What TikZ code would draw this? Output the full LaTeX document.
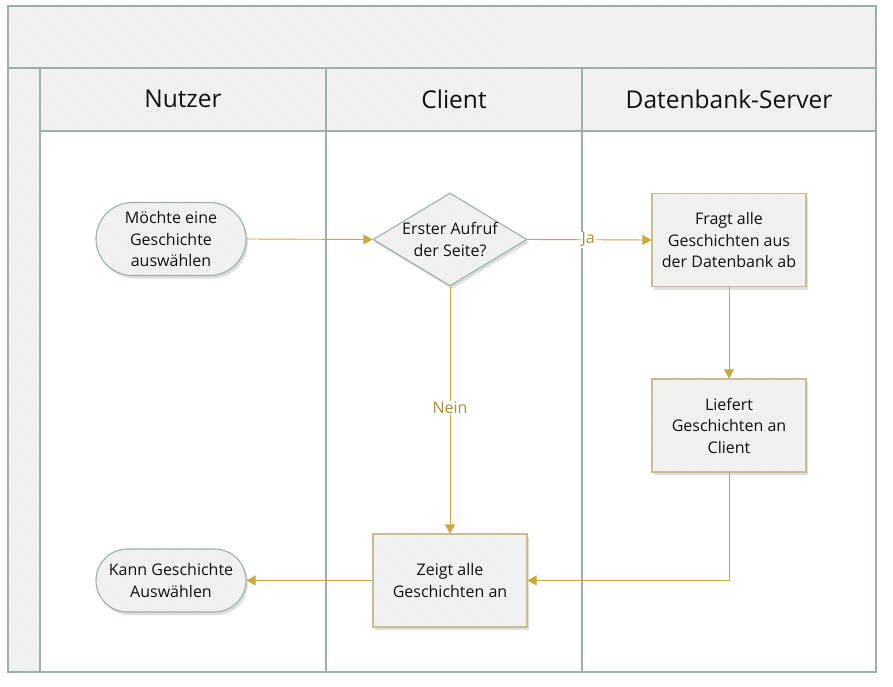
\documentclass[tikz,border=0pt]{standalone}
\usepackage{fontspec}
\setmainfont{Open Sans}
\usetikzlibrary{arrows.meta,shapes.geometric,shapes.misc,shadows,patterns}
\definecolor{frame}{HTML}{9AB0A8}
\definecolor{hatchbg}{HTML}{EBEBEB}
\definecolor{gold}{HTML}{C9A83C}
\definecolor{tan}{HTML}{C8BD92}
\definecolor{txt}{HTML}{111111}
\tikzset{
  hatched/.style={preaction={fill=hatchbg}, preaction={pattern=north west lines, pattern color=white}},
  lane/.style={draw=frame, line width=1.3pt},
  header/.style={draw=frame, line width=1.3pt, hatched},
  hdrtext/.style={font=\fontsize{24.5}{28}\selectfont, text=txt},
  boxtext/.style={font=\fontsize{16}{21.5}\selectfont, text=txt, align=center},
  terminal/.style={boxtext, rounded rectangle, draw=frame, line width=1.1pt, drop shadow={shadow xshift=2pt, shadow yshift=-3pt, fill=black!25, opacity=0.5}, hatched, minimum width=154pt, minimum height=73pt, inner sep=2pt},
  process/.style={boxtext, rectangle, draw=tan, line width=1.1pt, drop shadow={shadow xshift=2pt, shadow yshift=-3pt, fill=black!25, opacity=0.5}, hatched, minimum width=154pt, minimum height=93pt, inner sep=2pt},
  decision/.style={boxtext, diamond, aspect=1.65, draw=frame, line width=1.1pt, drop shadow={shadow xshift=2pt, shadow yshift=-3pt, fill=black!25, opacity=0.5}, hatched, minimum width=154pt, minimum height=93pt, inner sep=0pt},
  flow/.style={draw=gold, line width=0.9pt, -{Triangle[length=9pt,width=10pt]}},
  flowlabel/.style={font=\fontsize{16}{18}\selectfont, text=gold!85!black, fill=white, inner sep=1pt}
}
\begin{document}
\begin{tikzpicture}[x=1pt,y=-1pt]
\useasboundingbox (0,0) rectangle (893,687);
\fill[white] (0,0) rectangle (893,687);
% pool
\draw[lane, hatched] (8,6) rectangle (876,68);
\draw[lane, hatched] (8,68) rectangle (40,672);
% lanes
\draw[lane] (40,131) rectangle (326,672);
\draw[lane] (326,131) rectangle (582,672);
\draw[lane] (582,131) rectangle (876,672);
\draw[header] (40,68) rectangle (326,131);
\draw[header] (326,68) rectangle (582,131);
\draw[header] (582,68) rectangle (876,131);
\node[hdrtext] (h1) at (183,99) {Nutzer};
\node[hdrtext] (h2) at (454,99) {Client};
\node[hdrtext] (h3) at (729,99) {Datenbank-Server};
% nodes
\node[terminal] (start) at (171,239) {Möchte eine\\Geschichte\\auswählen};
\node[decision] (dec) at (450,239.5) {Erster Aufruf\\der Seite?};
\node[process] (fragt) at (729,240) {Fragt alle\\Geschichten aus\\der Datenbank ab};
\node[process] (liefert) at (729,425.5) {Liefert\\Geschichten an\\Client};
\node[process] (zeigt) at (450,580.5) {Zeigt alle\\Geschichten an};
\node[terminal, minimum height=63pt] (end) at (171,580.5) {Kann Geschichte\\Auswählen};
% connectors
\draw[flow] (start.east) -- (dec.west);
\draw[flow] (dec.east) -- node[flowlabel, pos=0.49] (ja) {Ja} (fragt.west);
\draw[flow] (fragt.south) -- (liefert.north);
\draw[flow] (liefert.south) |- (zeigt.east);
\draw[flow] (dec.south) -- node[flowlabel, pos=0.49] (nein) {Nein} (zeigt.north);
\draw[flow] (zeigt.west) -- (end.east);
\end{tikzpicture}
\end{document}
